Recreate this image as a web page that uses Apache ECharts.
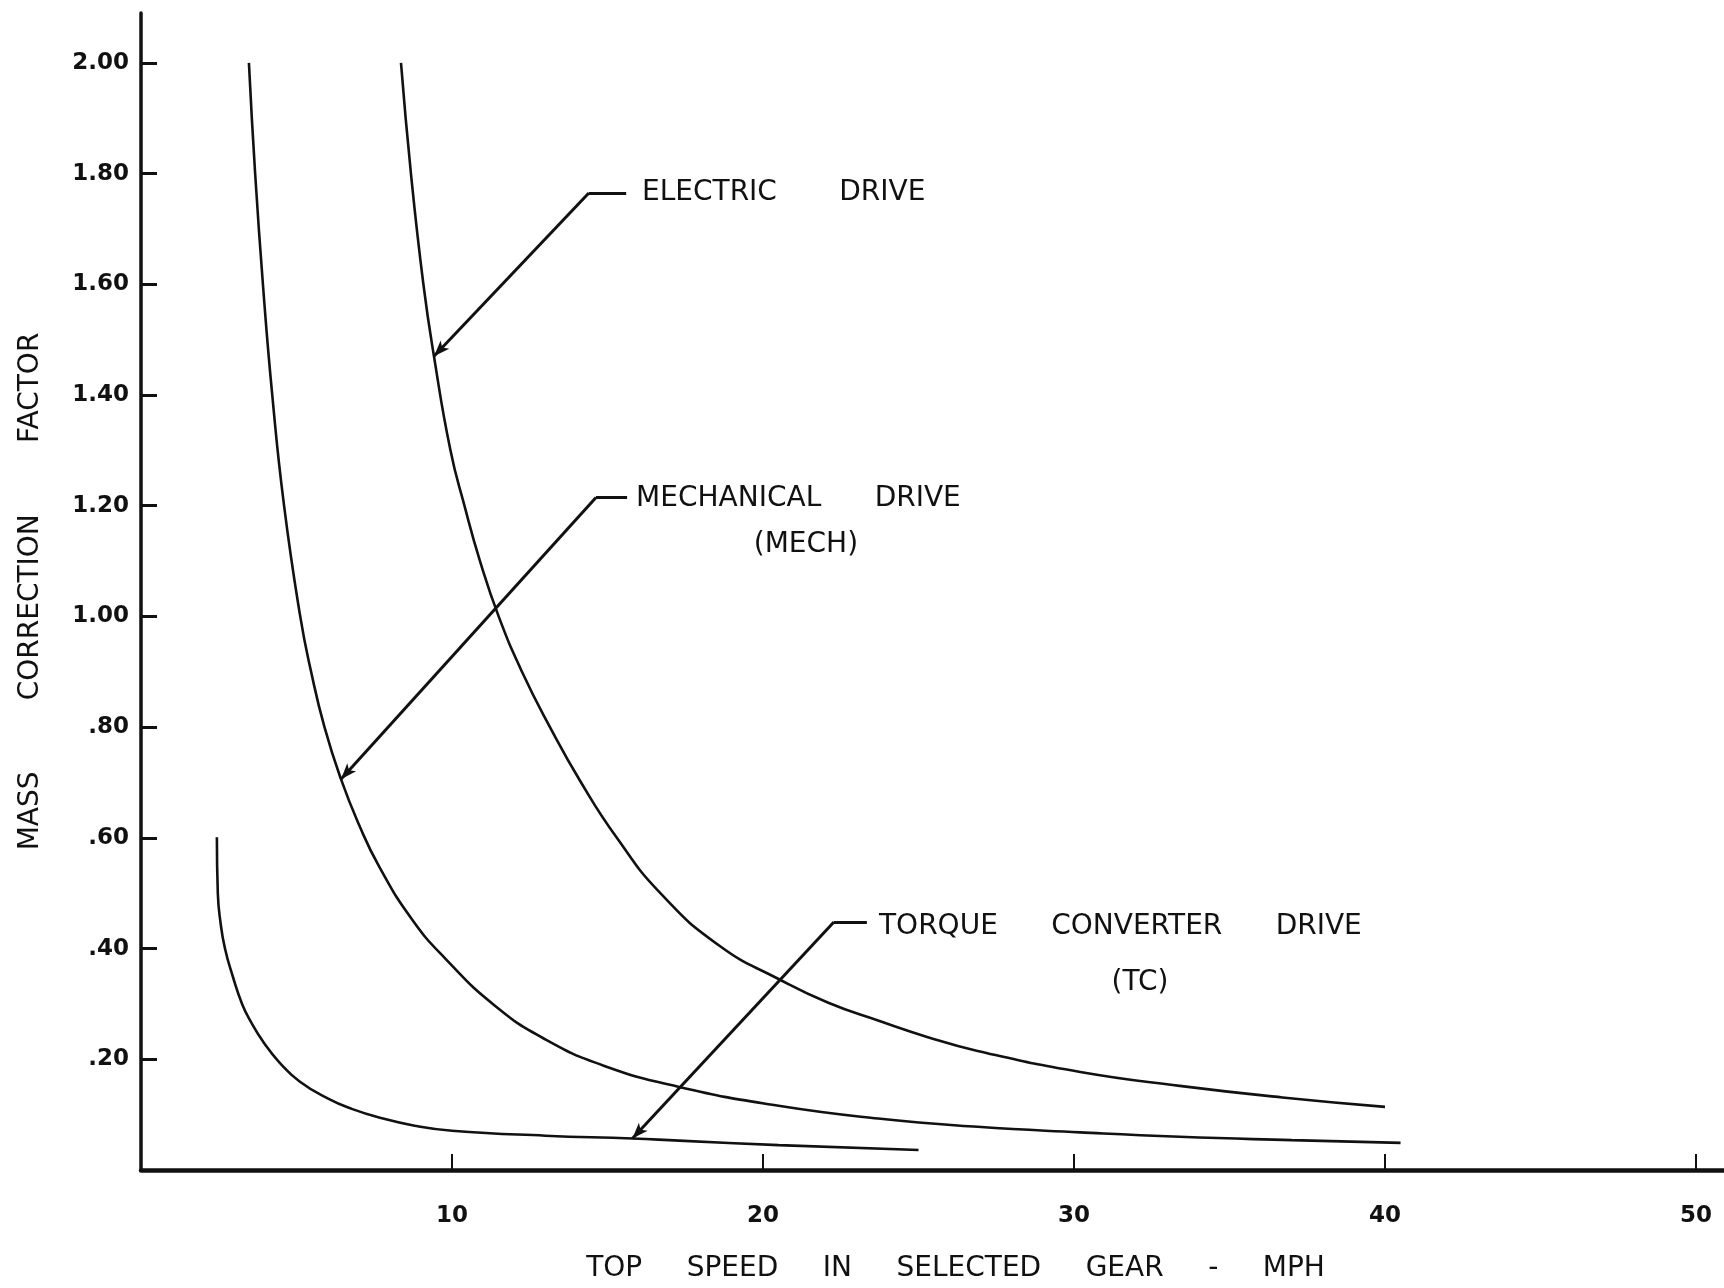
<!DOCTYPE html>
<html><head><meta charset="utf-8">
<script src="https://cdn.jsdelivr.net/npm/echarts@6/dist/echarts.min.js"></script>
<style>html,body{margin:0;padding:0;background:#fff}#c{width:1724px;height:1288px}</style>
</head><body><div id="c"></div>
<script>
// Curve readings: [top speed (mph), mass correction factor]
const electricDrive = [[8.36,2.00],[8.68,1.80],[9.08,1.60],[9.42,1.47],[9.95,1.30],[10.40,1.20],[10.90,1.10],[11.50,1.00],[12.25,0.90],[13.15,0.80],[14.15,0.70],[15.3,0.60],[16.7,0.50],[18.6,0.405],[20.5,0.345],[22.1,0.302],[23.7,0.270],[25.3,0.240],[26.9,0.215],[30.2,0.177],[33.4,0.152],[36.7,0.131],[40.0,0.114]];
const mechanicalDrive = [[3.47,2.00],[3.67,1.80],[3.92,1.60],[4.22,1.40],[4.60,1.20],[5.12,1.00],[5.47,0.90],[5.90,0.80],[6.43,0.706],[7.00,0.625],[7.65,0.549],[8.71,0.453],[9.8,0.381],[11.4,0.296],[13.0,0.236],[14.9,0.188],[17.3,0.150],[20.5,0.116],[23.7,0.093],[26.9,0.078],[30.2,0.068],[33.4,0.060],[37.0,0.054],[40.5,0.049]];
const torqueConverterDrive = [[2.44,0.601],[2.47,0.50],[2.55,0.45],[2.70,0.40],[2.95,0.35],[3.25,0.30],[3.54,0.267],[3.95,0.23],[4.44,0.195],[5.1,0.160],[6.05,0.128],[6.8,0.110],[7.65,0.095],[8.8,0.080],[10.0,0.071],[13.0,0.062],[15.8,0.057],[17.3,0.053],[20.5,0.045],[25.0,0.036]];

const xTickValues = [10,20,30,40,50];
const xTickLabels = ['10','20','30','40','50'];
const yTickValues = [0.2,0.4,0.6,0.8,1.0,1.2,1.4,1.6,1.8,2.0];
const yTickLabels = ['.20','.40','.60','.80','1.00','1.20','1.40','1.60','1.80','2.00'];

const xTitle = 'TOP     SPEED     IN     SELECTED     GEAR     -     MPH';
const yTitle = 'MASS        CORRECTION        FACTOR';

// Annotation leaders: [end of horizontal stub, elbow, arrow tip on curve] in data units
const electricLeader = [[15.6,1.765],[14.4,1.765],[9.42,1.47]];
const mechanicalLeader = [[15.63,1.215],[14.63,1.215],[6.43,0.706]];
const torqueLeader = [[23.34,0.448],[22.28,0.448],[15.8,0.057]];

// Annotation texts: anchor in data units
const electricText = {text:'ELECTRIC       DRIVE', at:[16.11,1.765], align:'left'};
const mechanicalText = {text:'MECHANICAL      DRIVE', at:[15.92,1.213], align:'left'};
const mechanicalAbbr = {text:'(MECH)', at:[21.38,1.130], align:'center'};
const torqueText = {text:'TORQUE      CONVERTER      DRIVE', at:[23.73,0.440], align:'left'};
const torqueAbbr = {text:'(TC)', at:[32.12,0.338], align:'center'};

const FONT = 'DejaVu Sans';
const INK = '#111';

function leaderMarkLine(pts){
  return [
    [{coord:pts[0], symbol:'none'},{coord:pts[1], symbol:'none'}],
    [{coord:pts[1], symbol:'none'},{coord:pts[2], symbol:'arrow', symbolSize:[9,16]}]
  ];
}

const chart = echarts.init(document.getElementById('c'), null, {renderer:'canvas'});
const curveStyle = {color:INK, width:2.6};
const leaderStyle = {color:INK, width:3, type:'solid'};
chart.setOption({
  backgroundColor:'#fff',
  animation:false,
  grid:{left:141, right:0, top:13, bottom:117},
  xAxis:{
    type:'value', min:0, max:50.9,
    name:xTitle, nameLocation:'middle', nameGap:85,
    nameTextStyle:{fontFamily:FONT, fontSize:28, color:INK, padding:[0,0,0,46]},
    axisLine:{show:true, lineStyle:{color:INK, width:4.5}},
    axisTick:{show:true, inside:true, length:16, lineStyle:{color:INK, width:2}, customValues:xTickValues},
    axisLabel:{show:true, margin:35, fontFamily:FONT, fontSize:23, fontWeight:'bold', color:INK, customValues:xTickValues,
      formatter:v=>{const i=xTickValues.indexOf(v);return i>=0?xTickLabels[i]:'';}},
    splitLine:{show:false}
  },
  yAxis:{
    type:'value', min:0, max:2.09,
    name:yTitle, nameLocation:'middle', nameGap:96, nameRotate:90,
    nameTextStyle:{fontFamily:FONT, fontSize:28, color:INK},
    axisLine:{show:true, lineStyle:{color:INK, width:3.5}},
    axisTick:{show:true, inside:true, length:16, lineStyle:{color:INK, width:3}, customValues:yTickValues},
    axisLabel:{show:true, margin:12, fontFamily:FONT, fontSize:23, fontWeight:'bold', color:INK, customValues:yTickValues,
      formatter:v=>{let best=0;for(let i=0;i<yTickValues.length;i++){if(Math.abs(yTickValues[i]-v)<Math.abs(yTickValues[best]-v))best=i;}return yTickLabels[best];}},
    splitLine:{show:false}
  },
  series:[
    {name:'Electric Drive', type:'line', data:electricDrive, smooth:0.5, showSymbol:false, lineStyle:curveStyle,
      markLine:{silent:true, symbol:['none','none'], label:{show:false}, lineStyle:leaderStyle, data:leaderMarkLine(electricLeader)}},
    {name:'Mechanical Drive', type:'line', data:mechanicalDrive, smooth:0.5, showSymbol:false, lineStyle:curveStyle,
      markLine:{silent:true, symbol:['none','none'], label:{show:false}, lineStyle:leaderStyle, data:leaderMarkLine(mechanicalLeader)}},
    {name:'Torque Converter Drive', type:'line', data:torqueConverterDrive, smooth:0.5, showSymbol:false, lineStyle:curveStyle,
      markLine:{silent:true, symbol:['none','none'], label:{show:false}, lineStyle:leaderStyle, data:leaderMarkLine(torqueLeader)}}
  ]
});

const labels = [electricText, mechanicalText, mechanicalAbbr, torqueText, torqueAbbr];
const graphics = labels.map(l=>{
  const p = chart.convertToPixel({gridIndex:0}, l.at);
  return {type:'text', x:p[0], y:p[1], style:{text:l.text, fill:INK, font:'28px "DejaVu Sans"', textAlign:l.align, textVerticalAlign:'middle', verticalAlign:'middle'}};
});
chart.setOption({graphic:graphics});
</script>
</body></html>
